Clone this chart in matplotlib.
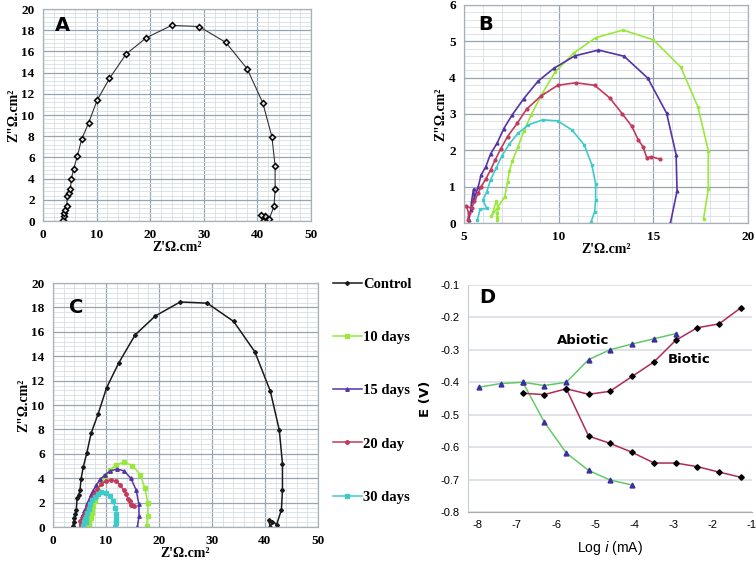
import matplotlib
matplotlib.use("Agg")
import matplotlib.pyplot as plt
from matplotlib.ticker import MultipleLocator
from matplotlib import font_manager

# fonts
names = set(f.name for f in font_manager.fontManager.ttflist)
narrow = "Liberation Sans Narrow" if "Liberation Sans Narrow" in names else "Liberation Sans"
serif = "Liberation Serif"

# Nyquist data (Z' , Z'')
ctrl_x = [3.8, 3.9, 4.0, 4.15, 4.4, 4.55, 4.85, 5.1, 5.3, 5.7, 6.4, 7.2, 8.5, 10.1, 12.4, 15.5,
          19.3, 24.0, 29.1, 34.1, 38.1, 41.0, 42.7, 43.3, 43.3, 43.1, 42.2, 41.4, 41.0, 40.7]
ctrl_y = [0.1, 0.45, 0.75, 1.05, 1.4, 2.4, 2.6, 3.05, 3.95, 4.9, 6.1, 7.7, 9.25, 11.4, 13.45, 15.75,
          17.3, 18.45, 18.35, 16.85, 14.35, 11.15, 7.95, 5.2, 3.05, 1.4, 0.2, 0.45, 0.0, 0.55]

d10_x = [6.75, 6.75, 6.75, 6.8, 6.7, 6.45, 7.15, 7.3, 7.4, 7.55, 7.85, 8.15, 8.55, 9.15, 9.8, 10.8,
         11.95, 13.4, 15.0, 16.45, 17.35, 17.9, 17.9, 17.65]
d10_y = [0.08, 0.17, 0.27, 0.42, 0.6, 0.18, 0.72, 1.14, 1.44, 1.7, 2.1, 2.52, 2.98, 3.58, 4.15, 4.68,
         5.1, 5.31, 5.04, 4.29, 3.2, 1.99, 0.93, 0.12]

d15_x = [5.25, 5.35, 5.4, 5.5, 5.55, 5.75, 5.9, 6.15, 6.4, 6.75, 7.1, 7.55, 8.15, 8.9, 9.75, 10.85,
         12.1, 13.45, 14.7, 15.7, 16.2, 16.25, 15.9]
d15_y = [0.08, 0.35, 0.6, 0.93, 0.7, 1.0, 1.32, 1.55, 1.9, 2.2, 2.6, 2.98, 3.42, 3.9, 4.26, 4.6,
         4.76, 4.59, 3.99, 3.02, 1.88, 0.88, 0.0]

d20_x = [5.2, 5.25, 5.12, 5.4, 5.55, 5.75, 5.9, 6.15, 6.4, 6.65, 6.95, 7.3, 7.8, 8.3, 9.05, 9.95,
         10.9, 11.9, 12.7, 13.35, 13.85, 14.2, 14.45, 14.65, 14.9, 15.35]
d20_y = [0.08, 0.27, 0.47, 0.4, 0.6, 0.82, 1.0, 1.21, 1.46, 1.74, 2.05, 2.38, 2.74, 3.13, 3.49, 3.79,
         3.86, 3.79, 3.44, 3.01, 2.67, 2.29, 2.1, 1.8, 1.82, 1.76]

d30_x = [5.7, 5.85, 6.2, 6.0, 6.2, 6.4, 6.7, 7.0, 7.4, 7.85, 8.4, 9.15, 9.95, 10.7, 11.35, 11.75,
         11.95, 11.95, 11.9, 11.7]
d30_y = [0.08, 0.38, 0.4, 0.63, 0.86, 1.19, 1.51, 1.85, 2.18, 2.47, 2.7, 2.84, 2.81, 2.56, 2.15, 1.6,
         1.08, 0.63, 0.31, 0.02]

# Tafel data (log i, E)
ab_up_x = [-7.97, -7.41, -6.85, -6.30, -5.74, -5.17, -4.63, -4.06, -3.50, -2.95]
ab_up_y = [-0.415, -0.404, -0.400, -0.410, -0.400, -0.330, -0.300, -0.282, -0.266, -0.250]
ab_lo_x = [-6.85, -6.30, -5.74, -5.17, -4.63, -4.06]
ab_lo_y = [-0.400, -0.523, -0.618, -0.672, -0.701, -0.717]
bi_up_x = [-6.85, -6.30, -5.74, -5.17, -4.63, -4.06, -3.50, -2.95, -2.40, -1.84, -1.28]
bi_up_y = [-0.434, -0.438, -0.420, -0.437, -0.428, -0.382, -0.337, -0.271, -0.232, -0.220, -0.170]
bi_lo_x = [-5.74, -5.17, -4.63, -4.06, -3.50, -2.95, -2.40, -1.84, -1.28]
bi_lo_y = [-0.420, -0.566, -0.588, -0.616, -0.649, -0.649, -0.660, -0.677, -0.693]

c_ctrl = "#1a1a1a"
c10 = "#99e83a"
c15 = "#5433a6"
c20 = "#c23a5c"
c30 = "#3fcaca"

fig = plt.figure(figsize=(7.56, 5.67), dpi=100)

def nyq_axes(rect, xlim, ylim, xmaj, xmin, ymaj, ymin):
    ax = fig.add_axes(rect)
    ax.set_xlim(*xlim)
    ax.set_ylim(*ylim)
    ax.xaxis.set_major_locator(MultipleLocator(xmaj))
    ax.xaxis.set_minor_locator(MultipleLocator(xmin))
    ax.yaxis.set_major_locator(MultipleLocator(ymaj))
    ax.yaxis.set_minor_locator(MultipleLocator(ymin))
    ax.grid(which="minor", color="#d6dfe7", lw=0.6)
    ax.grid(which="major", color="#98a4b0", lw=0.9)
    ax.set_axisbelow(True)
    for s in ax.spines.values():
        s.set_color("#a8b0b8")
        s.set_linewidth(0.9)
    ax.tick_params(which="both", length=0, pad=6)
    for lab in ax.get_xticklabels() + ax.get_yticklabels():
        lab.set_family(serif)
        lab.set_fontweight("bold")
        lab.set_fontsize(9.5)
    ax.set_xlabel("Z'Ω.cm²", family=serif, fontweight="bold", fontsize=10, labelpad=0)
    ax.set_ylabel('Z"Ω.cm²', family=serif, fontweight="bold", fontsize=10, labelpad=1)
    return ax

# A
axA = nyq_axes([0.0569, 0.6102, 0.3545, 0.3739], (0, 50), (0, 20), 10, 2, 2, 0.4)
axA.plot(ctrl_x, ctrl_y, color="#333333", lw=0.8, marker="D", ms=3,
         mfc="#dddddd", mec="black", mew=1.1)
axA.text(2.2, 18.4, "A", fontsize=14, fontweight="bold", va="center")

# B
axB = nyq_axes([0.6138, 0.6067, 0.3757, 0.3845], (5, 20), (0, 6), 5, 1, 1, 0.2)
axB.plot(d10_x, d10_y, color=c10, lw=1.2, marker="s", ms=2)
axB.plot(d15_x, d15_y, color=c15, lw=1.2, marker="^", ms=2)
axB.plot(d20_x, d20_y, color=c20, lw=1.2, marker="o", ms=2)
axB.plot(d30_x, d30_y, color=c30, lw=1.2, marker="s", ms=2)
axB.text(5.75, 5.46, "B", fontsize=14, fontweight="bold", va="center")

# C
axC = nyq_axes([0.0701, 0.0705, 0.3505, 0.4303], (0, 50), (0, 20), 10, 2, 2, 0.4)
axC.plot(ctrl_x, ctrl_y, color=c_ctrl, lw=1.1, marker="D", ms=2, label="Control")
axC.plot(d10_x, d10_y, color=c10, lw=1.1, marker="s", ms=2.5, label="10 days")
axC.plot(d15_x, d15_y, color=c15, lw=1.1, marker="^", ms=2.5, label="15 days")
axC.plot(d20_x, d20_y, color=c20, lw=1.1, marker="o", ms=2.5, label="20 day")
axC.plot(d30_x, d30_y, color=c30, lw=1.1, marker="s", ms=2.5, label="30 days")
axC.text(3.0, 18.0, "C", fontsize=14, fontweight="bold", va="center")
fig.legend(*axC.get_legend_handles_labels(), loc="center left",
           bbox_to_anchor=(0.440, 0.311), bbox_transform=fig.transFigure,
           frameon=False, prop={"family": serif, "weight": "bold", "size": 10.5},
           labelspacing=2.75, handlelength=2.0, handletextpad=0.1,
           borderpad=0, borderaxespad=0)

# D
axD = fig.add_axes([0.619, 0.097, 0.3757, 0.4004])
axD.set_xlim(-8.25, -1)
axD.set_ylim(-0.8, -0.1)
axD.grid(axis="y", color="#d9dde2", lw=1.2)
axD.set_axisbelow(True)
axD.spines["top"].set_visible(False)
axD.spines["right"].set_visible(False)
axD.spines["left"].set_color("#c8ccd0")
axD.spines["bottom"].set_color("#a8acb0")
axD.tick_params(length=0, pad=6)
axD.set_xticks([-8, -7, -6, -5, -4, -3, -2, -1])
axD.set_xticklabels(["-8", "-7", "-6", "-5", "-4", "-3", "-2", "-1"])
axD.set_yticks([-0.8, -0.7, -0.6, -0.5, -0.4, -0.3, -0.2, -0.1])
axD.set_yticklabels(["-0.8", "-0.7", "-0.6", "-0.5", "-0.4", "-0.3", "-0.2", "-0.1"])
for lab in axD.get_xticklabels() + axD.get_yticklabels():
    lab.set_family(narrow)
    lab.set_fontsize(8)
axD.plot(ab_up_x, ab_up_y, color="#63c96a", lw=1.1, marker="^", ms=3.5, mfc="#3b2fa0", mec="#3b2fa0")
axD.plot(ab_lo_x, ab_lo_y, color="#63c96a", lw=1.1, marker="^", ms=3.5, mfc="#3b2fa0", mec="#3b2fa0")
axD.plot(bi_up_x, bi_up_y, color="#b02a5a", lw=1.1, marker="D", ms=2.8, mfc="black", mec="black")
axD.plot(bi_lo_x, bi_lo_y, color="#b02a5a", lw=1.1, marker="D", ms=2.8, mfc="black", mec="black")
axD.text(-5.3, -0.27, "Abiotic", fontsize=9.5, fontweight="bold", ha="center", va="center")
axD.text(-2.6, -0.33, "Biotic", fontsize=9.5, fontweight="bold", ha="center", va="center")
axD.text(-7.95, -0.14, "D", fontsize=14, fontweight="bold", va="center")
axD.set_ylabel("E (V)", fontsize=9.5, fontweight="bold", labelpad=6)
axD.set_xlabel("Log $i$ (mA)", family=narrow, fontsize=10, labelpad=6)

fig.savefig("out.png", dpi=100)
